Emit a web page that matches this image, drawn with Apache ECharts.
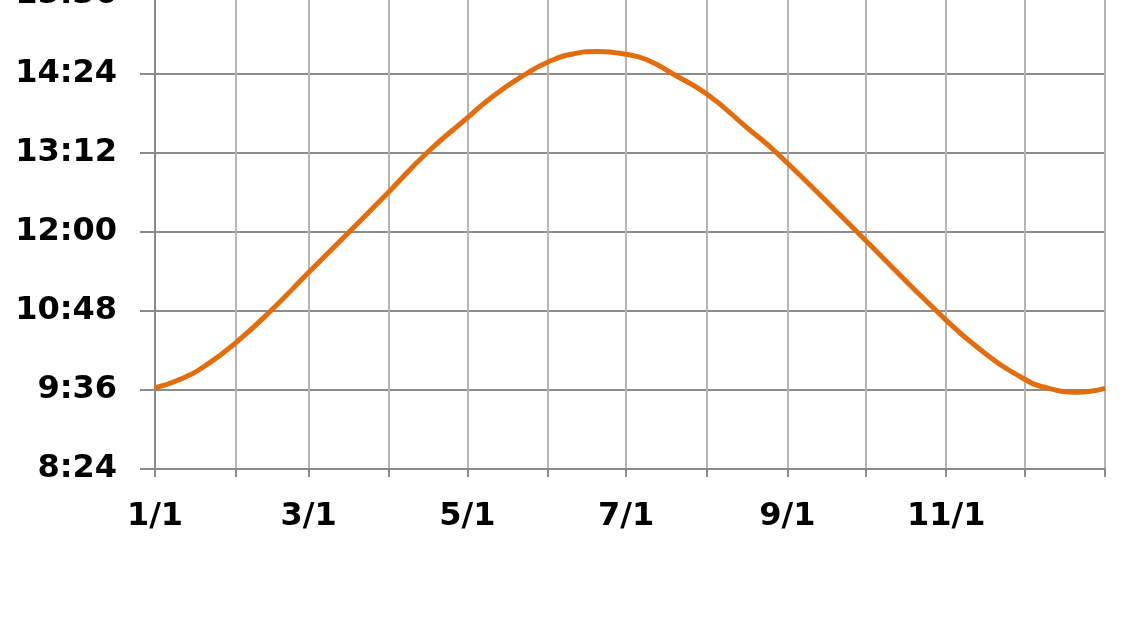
<!DOCTYPE html>
<html><head><meta charset="utf-8">
<script src="https://cdn.jsdelivr.net/npm/echarts@6/dist/echarts.min.js"></script>
<style>html,body{margin:0;padding:0;background:#fff}#c{width:1125px;height:633px}</style>
</head><body><div id="c"></div>
<script>
// Day of year (0 = 1/1) and day length in minutes
var dayOfYear = [0, 10, 20.5, 31, 44.4, 59, 74.6, 90, 104.4, 120, 130, 142.5, 151, 160, 170, 181, 189, 199, 212, 227.3, 238.9, 269.8, 300.3, 317, 334, 342.6, 354, 365];
var dayLength = [578, 586, 600, 619, 648, 683, 720, 757, 792, 824, 844, 864, 875, 882, 884.5, 882, 877, 864, 845.8, 815.4, 792, 720, 648, 613, 586, 578, 574, 577.5];
// Month-start ticks and labels
var monthStarts = [0, 31, 59, 90, 120, 151, 181, 212, 243, 273, 304, 334, 365];
var labelDays = [0, 59, 120, 181, 243, 304];
var labelTexts = ['1/1', '3/1', '5/1', '7/1', '9/1', '11/1'];
var yMin = 504, yMax = 936, yStep = 72;

var data = dayOfYear.map(function (d, i) { return [d, dayLength[i]]; });
function fmtTime(v) {
  var h = Math.floor(v / 60), m = Math.round(v - h * 60);
  return h + ':' + (m < 10 ? '0' : '') + m;
}
var chart = echarts.init(document.getElementById('c'));
chart.setOption({
  animation: false,
  grid: { left: 155, right: 20, top: -5, bottom: 164, containLabel: false, outerBoundsMode: 'none' },
  xAxis: {
    type: 'value', min: 0, max: 365,
    axisLine: { show: true, lineStyle: { color: '#8a8a8a', width: 2 } },
    axisTick: { show: true, customValues: monthStarts, length: 8, lineStyle: { color: '#8a8a8a', width: 2 } },
    splitLine: { show: true, lineStyle: { color: '#b5b5b5', width: 2 } },
    axisLabel: {
      customValues: labelDays, margin: 32,
      fontFamily: 'DejaVu Sans', fontWeight: 'bold', fontSize: 32, color: '#000',
      formatter: function (v) { var i = labelDays.indexOf(v); return i >= 0 ? labelTexts[i] : ''; }
    }
  },
  yAxis: {
    type: 'value', min: yMin, max: yMax, interval: yStep,
    axisLine: { show: true, lineStyle: { color: '#8a8a8a', width: 2 } },
    axisTick: { show: true, length: 15, lineStyle: { color: '#8a8a8a', width: 2 } },
    splitLine: { show: true, lineStyle: { color: '#8c8c8c', width: 2 } },
    axisLabel: {
      margin: 38, fontFamily: 'DejaVu Sans', fontWeight: 'bold', fontSize: 32, color: '#000',
      formatter: fmtTime
    }
  },
  series: [{
    type: 'line', data: data, smooth: 0.5, symbol: 'none',
    lineStyle: { color: '#E46C0A', width: 5 }
  }]
});
</script></body></html>
